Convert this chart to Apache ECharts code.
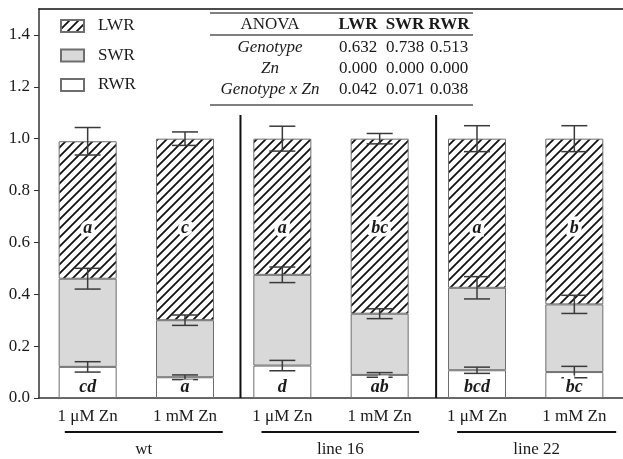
<!DOCTYPE html>
<html><head><meta charset="utf-8">
<script src="https://cdn.jsdelivr.net/npm/echarts@6/dist/echarts.min.js"></script>
<style>html,body{margin:0;padding:0;background:#fff}#c{width:623px;height:459px}</style>
</head><body><div id="c"></div>
<script>
const categories = ['1 μM Zn','1 mM Zn','1 μM Zn','1 mM Zn','1 μM Zn','1 mM Zn'];
const groups = ['wt','line 16','line 22'];
const seriesNames = ['LWR','SWR','RWR'];
const rwr = [0.120, 0.080, 0.125, 0.089, 0.107, 0.100];
const swr = [0.340, 0.220, 0.350, 0.236, 0.318, 0.261];
const lwr = [0.530, 0.700, 0.525, 0.675, 0.575, 0.639];
const rwrErr = [0.020, 0.009, 0.020, 0.009, 0.012, 0.022];
const swrErr = [0.040, 0.020, 0.030, 0.019, 0.043, 0.035];
const lwrErr = [0.053, 0.026, 0.048, 0.020, 0.050, 0.050];
const rwrLetters = ['cd','a','d','ab','bcd','bc'];
const lwrLetters = ['a','c','a','bc','a','b'];
const yTicks = [0, 0.2, 0.4, 0.6, 0.8, 1.0, 1.2, 1.4];
const anovaHeader = 'ANOVA';
const anovaRows = ['Genotype','Zn','Genotype x Zn'];
const anovaVals = [['0.632','0.738','0.513'],['0.000','0.000','0.000'],['0.042','0.071','0.038']];

const FONT = "'Liberation Serif','Times New Roman',serif";

function hatch(){
  const s = 9, c = document.createElement('canvas');
  c.width = s; c.height = s;
  const g = c.getContext('2d');
  g.fillStyle = '#fff'; g.fillRect(0,0,s,s);
  g.strokeStyle = '#111'; g.lineWidth = 1.8;
  g.beginPath();
  g.moveTo(-1, s+1); g.lineTo(s+1, -1);
  g.moveTo(-3, 3); g.lineTo(3, -3);
  g.moveTo(s-3, s+3); g.lineTo(s+3, s-3);
  g.stroke();
  return c;
}
const hatchFill = {image: hatch(), repeat: 'repeat'};

const errData = [];
for (let i = 0; i < categories.length; i++) {
  errData.push([i, rwr[i], rwrErr[i]]);
  errData.push([i, rwr[i] + swr[i], swrErr[i]]);
  errData.push([i, rwr[i] + swr[i] + lwr[i], lwrErr[i]]);
}
const letterData = [];
for (let i = 0; i < categories.length; i++) {
  letterData.push([i, 0.041, rwrLetters[i]]);
  letterData.push([i, 0.654, lwrLetters[i]]);
}
const dividers = [[2.07], [4.08]];

const barBorder = {borderColor: '#6e6e6e', borderWidth: 1};
const chart = echarts.init(document.getElementById('c'), null, {renderer: 'canvas'});
const option = {
  animation: false,
  backgroundColor: '#fff',
  grid: {left: 39, right: -4, top: 9, bottom: 61},
  legend: {
    data: seriesNames, orient: 'vertical', left: 60, top: 16, padding: 0,
    itemWidth: 23, itemHeight: 12, itemGap: 9.5, icon: 'rect',
    textStyle: {fontFamily: FONT, fontSize: 17, color: '#1a1a1a', lineHeight: 20, padding: [0,0,0,9]}
  },
  xAxis: [
    {type: 'category', data: categories, position: 'bottom',
     axisLine: {lineStyle: {color: '#333', width: 1.5}},
     axisTick: {alignWithLabel: true, length: 5, lineStyle: {color: '#333'}},
     axisLabel: {fontFamily: FONT, fontSize: 17, color: '#1a1a1a', margin: 10}},
    {type: 'category', data: categories, position: 'top',
     axisLine: {lineStyle: {color: '#111', width: 1.5}},
     axisTick: {show: false}, axisLabel: {show: false}},
    {type: 'value', min: 0, max: 6, show: false}
  ],
  yAxis: {
    type: 'value', min: 0, max: 1.5, interval: 0.2,
    axisLine: {show: true, lineStyle: {color: '#333', width: 1.5}},
    axisTick: {show: true, length: 5, lineStyle: {color: '#333'},
      customValues: yTicks},
    axisLabel: {fontFamily: FONT, fontSize: 17, color: '#1a1a1a', margin: 9,
      customValues: yTicks, formatter: v => v.toFixed(1)},
    splitLine: {show: false}
  },
  series: [
    {name: 'RWR', type: 'bar', stack: 's', data: rwr, barWidth: 58,
     itemStyle: Object.assign({color: '#fff'}, barBorder)},
    {name: 'SWR', type: 'bar', stack: 's', data: swr, barWidth: 58,
     itemStyle: Object.assign({color: '#d9d9d9'}, barBorder)},
    {name: 'LWR', type: 'bar', stack: 's', data: lwr, barWidth: 58,
     itemStyle: Object.assign({color: hatchFill}, barBorder)},
    {type: 'custom', data: errData, z: 5,
     renderItem: (params, api) => {
       const x = api.value(0), y = api.value(1), e = api.value(2);
       const top = api.coord([x, y + e]), bot = api.coord([x, y - e]);
       const hw = 13;
       const st = {stroke: '#3a3a3a', lineWidth: 1.5};
       return {type: 'group', children: [
         {type: 'line', shape: {x1: top[0], y1: top[1], x2: bot[0], y2: bot[1]}, style: st},
         {type: 'line', shape: {x1: top[0]-hw, y1: top[1], x2: top[0]+hw, y2: top[1]}, style: st},
         {type: 'line', shape: {x1: bot[0]-hw, y1: bot[1], x2: bot[0]+hw, y2: bot[1]}, style: st}
       ]};
     }},
    {type: 'custom', data: letterData, z: 6,
     renderItem: (params, api) => {
       const p = api.coord([api.value(0), api.value(1)]);
       return {type: 'text', x: p[0], y: p[1], style: {
         text: letterData[params.dataIndex][2], fill: '#1a1a1a',
         font: 'italic bold 18px ' + FONT, align: 'center', verticalAlign: 'middle',
         stroke: '#fff', lineWidth: 7}};
     }},
    {type: 'custom', xAxisIndex: 2, data: dividers, z: 4,
     renderItem: (params, api) => {
       const a = api.coord([api.value(0), 0]), b = api.coord([api.value(0), 1.091]);
       return {type: 'line', shape: {x1: a[0], y1: a[1], x2: b[0], y2: b[1]},
         style: {stroke: '#111', lineWidth: 2}};
     }}
  ]
};
chart.setOption(option);

// ANOVA table and group labels
const g = [];
const colX = [358, 405, 449];
const rowY = [48, 69, 90];
const labelX = 270;
const lineSt = {stroke: '#555', lineWidth: 1.5};
g.push({type: 'line', shape: {x1: 210, y1: 13, x2: 473, y2: 13}, style: lineSt});
g.push({type: 'line', shape: {x1: 210, y1: 35, x2: 473, y2: 35}, style: lineSt});
g.push({type: 'line', shape: {x1: 210, y1: 105, x2: 473, y2: 105}, style: lineSt});
g.push({type: 'text', x: labelX, y: 24.5, style: {text: anovaHeader, font: '17px ' + FONT, fill: '#1a1a1a', align: 'center', verticalAlign: 'middle'}});
seriesNames.forEach((n, j) => g.push({type: 'text', x: colX[j], y: 24.5,
  style: {text: n, font: 'bold 17px ' + FONT, fill: '#1a1a1a', align: 'center', verticalAlign: 'middle'}}));
anovaRows.forEach((r, i) => {
  g.push({type: 'text', x: labelX, y: rowY[i], style: {text: r, font: 'italic 17px ' + FONT, fill: '#1a1a1a', align: 'center', verticalAlign: 'middle'}});
  anovaVals[i].forEach((v, j) => g.push({type: 'text', x: colX[j], y: rowY[i],
    style: {text: v, font: '17px ' + FONT, fill: '#1a1a1a', align: 'center', verticalAlign: 'middle'}}));
});
const groupSpan = [[0.265, 1.888], [2.286, 3.905], [4.296, 5.93]];
groups.forEach((name, k) => {
  const x1 = chart.convertToPixel({xAxisIndex: 2}, groupSpan[k][0]);
  const x2 = chart.convertToPixel({xAxisIndex: 2}, groupSpan[k][1]);
  g.push({type: 'line', shape: {x1: x1, y1: 432, x2: x2, y2: 432}, style: {stroke: '#111', lineWidth: 2}});
  g.push({type: 'text', x: (x1 + x2) / 2, y: 450, style: {text: name, font: '17px ' + FONT, fill: '#1a1a1a', align: 'center', verticalAlign: 'middle'}});
});
chart.setOption({graphic: g});
</script></body></html>
